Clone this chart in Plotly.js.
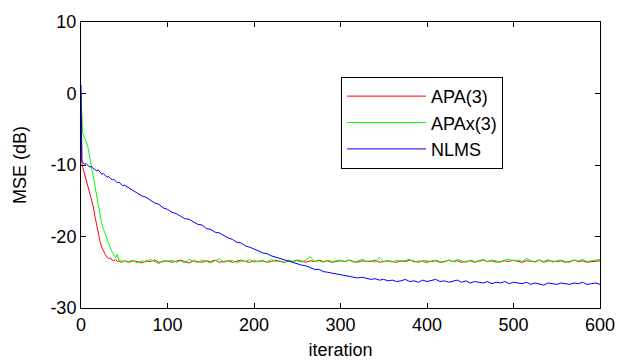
<!DOCTYPE html>
<html>
<head>
<meta charset="utf-8">
<script src="https://cdn.plot.ly/plotly-3.0.1.min.js"></script>
<style>html,body{margin:0;padding:0;background:#fff;}#chart{width:618px;height:360px;}</style>
</head>
<body>
<div id="chart"></div>
<script>
// iteration index (dense at start, then every 5 iterations)
const iterations = [0,1,
  2,4,6,8,10,12,14,16,18,20,22,24,26,28,30,32,34,36,38,40,42,44,46,48,50,
  55,60,65,70,75,80,85,90,95,100,
  105,110,115,120,125,130,135,140,145,150,
  155,160,165,170,175,180,185,190,195,200,
  205,210,215,220,225,230,235,240,245,250,
  255,260,265,270,275,280,285,290,295,300,
  305,310,315,320,325,330,335,340,345,350,
  355,360,365,370,375,380,385,390,395,400,
  405,410,415,420,425,430,435,440,445,450,
  455,460,465,470,475,480,485,490,495,500,
  505,510,515,520,525,530,535,540,545,550,
  555,560,565,570,575,580,585,590,595,600];

const apa3 = [0.0,-9.8,
  -10.3,-11.2,-12.1,-12.9,-13.6,-14.5,-15.7,-17.1,-18.5,-19.7,-20.7,-21.5,-22.1,-22.5,-22.9,-23.1,-23.0,-23.3,-23.4,-23.2,-23.5,-23.4,-23.6,-23.5,-23.4,
  -23.6,-23.4,-23.5,-23.7,-23.4,-23.5,-23.3,-23.6,-23.5,-23.4,
  -23.6,-23.5,-23.3,-23.5,-23.7,-23.4,-23.5,-23.6,-23.4,-23.5,
  -23.3,-23.6,-23.5,-23.4,-23.6,-23.5,-23.3,-23.5,-23.6,-23.4,
  -23.5,-23.4,-23.6,-23.5,-23.3,-23.5,-23.6,-23.4,-23.5,-23.3,
  -23.5,-23.6,-23.4,-23.5,-23.3,-23.5,-23.4,-23.6,-23.5,-23.4,
  -23.5,-23.3,-23.5,-23.6,-23.4,-23.5,-23.5,-23.3,-23.6,-23.5,
  -23.4,-23.5,-23.6,-23.4,-23.5,-23.3,-23.5,-23.6,-23.4,-23.5,
  -23.5,-23.4,-23.6,-23.5,-23.3,-23.5,-23.4,-23.6,-23.5,-23.4,
  -23.6,-23.5,-23.3,-23.5,-23.4,-23.6,-23.5,-23.4,-23.5,-23.3,
  -23.5,-23.6,-23.4,-23.5,-23.5,-23.3,-23.6,-23.4,-23.5,-23.5,
  -23.4,-23.6,-23.5,-23.3,-23.5,-23.4,-23.6,-23.5,-23.4,-23.4];

const apax3 = [-0.5,-5.0,
  -5.6,-6.2,-6.7,-7.5,-8.8,-10.0,-11.3,-12.7,-14.2,-15.6,-17.0,-18.2,-19.0,-19.7,-20.4,-21.0,-21.6,-22.1,-22.6,-23.0,-22.5,-23.4,-23.3,-23.6,-23.4,
  -23.5,-23.3,-23.7,-23.4,-23.6,-23.2,-23.5,-23.8,-23.4,-23.5,
  -23.3,-23.6,-23.4,-23.7,-23.2,-23.5,-23.6,-23.3,-23.5,-23.7,
  -23.4,-23.1,-23.6,-23.5,-23.3,-23.7,-23.4,-23.5,-23.2,-23.6,
  -23.5,-23.3,-23.6,-23.2,-23.5,-23.4,-23.7,-23.3,-23.5,-23.4,
  -23.6,-23.3,-22.8,-23.5,-23.4,-23.6,-23.3,-23.5,-23.4,-23.3,
  -23.5,-23.3,-23.6,-23.4,-23.2,-23.5,-23.4,-23.6,-22.9,-23.5,
  -23.4,-23.6,-23.3,-23.5,-23.4,-23.2,-23.6,-23.4,-23.5,-23.7,
  -23.4,-23.3,-23.5,-23.6,-23.3,-23.5,-23.2,-23.4,-23.6,-23.3,
  -23.5,-23.4,-23.2,-23.5,-23.3,-23.4,-23.6,-23.3,-23.2,-23.4,
  -23.3,-23.5,-23.1,-23.4,-23.6,-23.3,-23.5,-23.2,-23.6,-23.4,
  -23.3,-23.5,-23.6,-23.3,-23.4,-23.2,-23.5,-23.4,-23.3,-23.2];

const nlms = [1.2,-9.5,
  -9.6,-9.9,-9.8,-10.1,-10.3,-10.2,-10.5,-10.6,-10.8,-10.7,-11.1,-11.3,-11.2,-11.5,-11.7,-11.6,-11.9,-12.1,-12.0,-12.3,-12.5,-12.4,-12.7,-12.9,-12.8,
  -13.2,-13.6,-13.9,-14.3,-14.5,-14.9,-15.3,-15.5,-16.0,-16.2,
  -16.6,-16.8,-17.1,-17.5,-17.6,-18.0,-18.3,-18.4,-18.9,-19.0,
  -19.4,-19.5,-19.9,-20.2,-20.4,-20.8,-20.9,-21.3,-21.5,-21.7,
  -22.0,-22.3,-22.4,-22.7,-22.9,-23.0,-23.3,-23.5,-23.6,-23.9,
  -24.0,-24.1,-24.4,-24.6,-24.6,-24.9,-25.0,-25.1,-25.3,-25.4,
  -25.4,-25.6,-25.6,-25.8,-25.7,-25.9,-26.0,-25.9,-26.1,-26.0,
  -26.2,-26.1,-26.3,-26.2,-26.0,-26.3,-26.2,-26.4,-26.1,-26.3,
  -26.2,-26.0,-26.3,-26.2,-26.4,-26.3,-26.1,-26.4,-26.2,-26.5,
  -26.3,-26.4,-26.5,-26.3,-26.6,-26.4,-26.5,-26.3,-26.6,-26.4,
  -26.5,-26.6,-26.4,-26.7,-26.5,-26.6,-26.8,-26.5,-26.6,-26.7,
  -26.5,-26.6,-26.7,-26.5,-26.6,-26.4,-26.7,-26.6,-26.5,-26.7];

const seriesNames = ['APA(3)', 'APAx(3)', 'NLMS'];
const xTicks = [0,100,200,300,400,500,600];
const yTicks = [-30,-20,-10,0,10];

const FONT = 'Liberation Sans, Arial, sans-serif';
const traces = [
  {x: iterations, y: apa3, name: seriesNames[0], mode: 'lines', line: {color: '#ff0000', width: 1}},
  {x: iterations, y: apax3, name: seriesNames[1], mode: 'lines', line: {color: '#00ff00', width: 1}},
  {x: iterations, y: nlms, name: seriesNames[2], mode: 'lines', line: {color: '#0000ff', width: 1}}
];

const axisCommon = {
  showgrid: false, zeroline: false, showline: true, linecolor: '#000', linewidth: 1,
  mirror: 'ticks', ticks: 'inside', ticklen: 5, tickcolor: '#000', tickwidth: 1,
  tickfont: {family: FONT, size: 18, color: '#000'}
};

const layout = {
  width: 618, height: 360,
  margin: {l: 81, r: 18, t: 22, b: 52},
  paper_bgcolor: '#fff', plot_bgcolor: '#fff',
  font: {family: FONT, color: '#000'},
  xaxis: Object.assign({}, axisCommon, {
    range: [0, 600], tickvals: xTicks, ticktext: xTicks.map(String),
    title: {text: 'iteration', font: {family: FONT, size: 18, color: '#000'}, standoff: 11}
  }),
  yaxis: Object.assign({}, axisCommon, {
    range: [-30, 10], tickvals: yTicks, ticktext: yTicks.map(String),
    title: {text: 'MSE (dB)', font: {family: FONT, size: 18, color: '#000'}, standoff: 19}
  }),
  showlegend: true,
  legend: {
    x: 0.501, y: 0.808, xanchor: 'left', yanchor: 'top',
    bgcolor: '#fff', bordercolor: '#000', borderwidth: 1,
    font: {family: FONT, size: 18, color: '#000'},
    itemwidth: 79, tracegroupgap: 0
  }
};

Plotly.newPlot('chart', traces, layout, {displayModeBar: false, staticPlot: true});
</script>
</body>
</html>
